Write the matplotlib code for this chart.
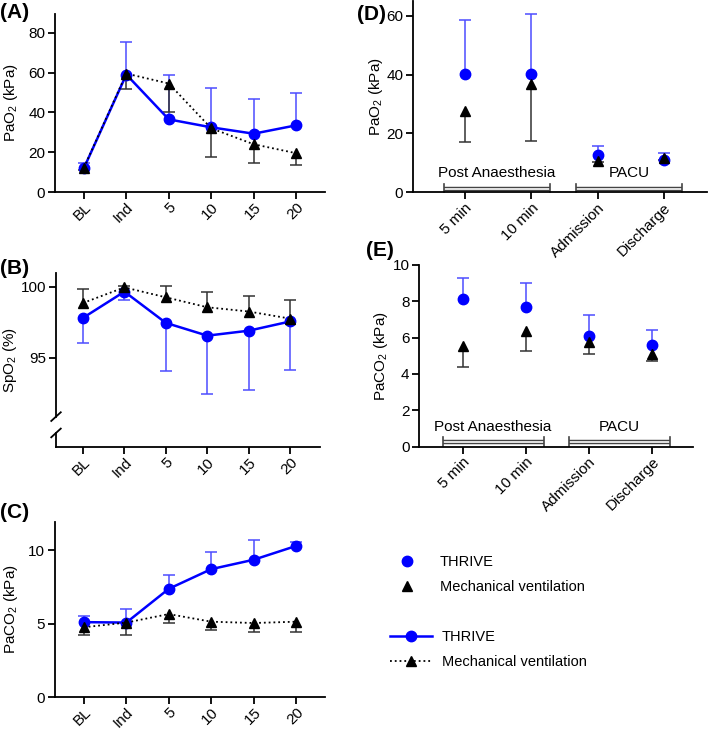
import numpy as np
import matplotlib
matplotlib.use("Agg")
import matplotlib.pyplot as plt
from matplotlib.lines import Line2D

plt.rcParams['font.family'] = ['Liberation Sans', 'DejaVu Sans']
plt.rcParams['mathtext.fontset'] = 'custom'
plt.rcParams['mathtext.rm'] = 'Liberation Sans'
plt.rcParams['mathtext.it'] = 'Liberation Sans:italic'
plt.rcParams['font.size'] = 11

# time course categories (A-C)
time_labels = ['BL', 'Ind', '5', '10', '15', '20']
# post anaesthesia / PACU categories (D-E)
post_labels = ['5 min', '10 min', 'Admission', 'Discharge']
groups = [('Post Anaesthesia', 0, 1), ('PACU', 2, 3)]

# (A) PaO2 during apnoea
pao2_thrive = [12.0, 59.0, 36.5, 32.5, 29.3, 33.5]
pao2_thrive_sd = [2.5, 16.5, 22.5, 19.5, 17.2, 16.0]
pao2_mv = [12.2, 59.5, 54.5, 32.0, 24.0, 19.5]
pao2_mv_sd = [1.0, 8.0, 14.5, 14.5, 9.5, 6.0]

# (B) SpO2
spo2_thrive = [97.8, 99.65, 97.45, 96.55, 96.9, 97.55]
spo2_thrive_sd = [1.8, 0.6, 3.4, 4.1, 4.2, 3.45]
spo2_mv = [98.85, 99.95, 99.25, 98.55, 98.25, 97.75]
spo2_mv_sd = [1.0, 0.1, 0.8, 1.1, 1.1, 1.3]

# (C) PaCO2
paco2_thrive = [5.1, 5.07, 7.37, 8.71, 9.35, 10.29]
paco2_thrive_sd = [0.4, 0.93, 0.96, 1.2, 1.36, 0.29]
paco2_mv = [4.75, 5.07, 5.65, 5.13, 5.04, 5.13]
paco2_mv_sd = [0.5, 0.83, 0.58, 0.55, 0.62, 0.67]

# (D) PaO2 post anaesthesia / PACU
post_pao2_thrive = [40.2, 40.2, 12.6, 11.0]
post_pao2_thrive_sd = [18.4, 20.5, 3.2, 2.2]
post_pao2_mv = [27.8, 36.7, 10.8, 11.6]
post_pao2_mv_sd = [10.7, 19.1, 0.5, 0.5]

# (E) PaCO2 post anaesthesia / PACU
post_paco2_thrive = [8.13, 7.69, 6.08, 5.59]
post_paco2_thrive_sd = [1.16, 1.28, 1.14, 0.8]
post_paco2_mv = [5.55, 6.37, 5.75, 5.11]
post_paco2_mv_sd = [1.19, 1.13, 0.66, 0.38]

BLUE = '#0000FF'
BLUE_ERR = '#4D4DFF'
BLACK = '#000000'
BLACK_ERR = '#333333'


def style_axis(ax):
    for side in ['top', 'right']:
        ax.spines[side].set_visible(False)
    for side in ['left', 'bottom']:
        ax.spines[side].set_linewidth(1.3)
    ax.tick_params(direction='out', length=5, width=1.3, labelsize=11)
    ax.tick_params(axis='x', pad=1)
    ax.tick_params(axis='y', pad=2)


def one_sided(ax, x, mean, sd, up, color):
    """Error bar drawn only on one side of the mean (GraphPad style)."""
    sd = np.asarray(sd)
    zeros = np.zeros_like(sd)
    yerr = [zeros, sd] if up else [sd, zeros]
    _, caps, _ = ax.errorbar(x, mean, yerr=yerr, fmt='none', ecolor=color,
                             elinewidth=1.1, capsize=4, capthick=1.1, zorder=2)
    caps[0 if up else 1].set_visible(False)


def draw_series(ax, x, mean, sd, up, thrive, line=True):
    one_sided(ax, x, mean, sd, up, BLUE_ERR if thrive else BLACK_ERR)
    if thrive:
        ax.plot(x, mean, linestyle='-' if line else 'none', color=BLUE,
                lw=1.8, marker='o', ms=7.5, zorder=3)
    else:
        ax.plot(x, mean, linestyle=':' if line else 'none', color=BLACK,
                lw=1.3, marker='^', ms=6.5, zorder=4)


def time_panel(ax, thrive, thrive_sd, mv, mv_sd, thrive_up):
    x = np.arange(len(time_labels))
    draw_series(ax, x, thrive, thrive_sd, thrive_up, True)
    draw_series(ax, x, mv, mv_sd, not thrive_up, False)
    ax.set_xticks(x)
    ax.set_xticklabels(time_labels, rotation=45, ha='right', va='top',
                       rotation_mode='anchor')
    style_axis(ax)


def post_panel(ax, thrive, thrive_sd, mv, mv_sd, text_y, bar_y):
    x = np.arange(len(post_labels))
    draw_series(ax, x, thrive, thrive_sd, True, True, line=False)
    draw_series(ax, x, mv, mv_sd, False, False, line=False)
    ax.set_xticks(x)
    ax.set_xticklabels(post_labels, rotation=45, ha='right', va='top',
                       rotation_mode='anchor')
    style_axis(ax)
    trans = ax.get_xaxis_transform()
    for name, i0, i1 in groups:
        x0, x1 = x[i0] - 0.32, x[i1] + 0.28
        ax.plot([x0, x1], [bar_y, bar_y], color='#444444', lw=3.2,
                transform=trans, clip_on=False, solid_capstyle='butt')
        ax.plot([x0, x1], [bar_y, bar_y], color='white', lw=1.2,
                transform=trans, clip_on=False, solid_capstyle='butt')
        for xe in (x0, x1):
            ax.plot([xe, xe], [bar_y - 0.02, bar_y + 0.025], color='#444444',
                    lw=1.2, transform=trans, clip_on=False)
        ax.text((x0 + x1) / 2, text_y, name, transform=trans,
                ha='center', va='center', fontsize=11)


fig = plt.figure(figsize=(7.09, 7.31), dpi=100)

# (A)
axA = fig.add_axes([0.0776, 0.7373, 0.3808, 0.2435])
time_panel(axA, pao2_thrive, pao2_thrive_sd, pao2_mv, pao2_mv_sd, True)
axA.set_xlim(-0.68, 5.68)
axA.set_ylim(0, 89.4)
axA.set_yticks([0, 20, 40, 60, 80])
axA.set_ylabel('PaO$_2$ (kPa)', fontsize=11)
axA.yaxis.set_label_coords(-0.13, 0.5)

# (B) with broken y axis
axB = fig.add_axes([0.079, 0.3885, 0.3724, 0.238])
time_panel(axB, spo2_thrive, spo2_thrive_sd, spo2_mv, spo2_mv_sd, False)
axB.set_xlim(-0.65, 5.72)
b_lo, b_hi = 88.71, 100.96
axB.set_ylim(b_lo, b_hi)
axB.set_yticks([95, 100])
axB.set_ylabel('SpO$_2$ (%)', fontsize=11)
axB.yaxis.set_label_coords(-0.14, 0.5)
brk_hi, brk_lo = 90.85, 89.7
axB.spines['left'].set_bounds(brk_hi, b_hi)
ytr = axB.get_yaxis_transform()
axB.plot([0, 0], [b_lo, brk_lo], color='black', lw=1.3, transform=ytr,
         clip_on=False)
for yb in (brk_hi, brk_lo):
    fy = (yb - b_lo) / (b_hi - b_lo)
    axB.plot([-0.018, 0.018], [fy - 0.025, fy + 0.025], color='black', lw=1.3,
             transform=axB.transAxes, clip_on=False)

# (C)
axC = fig.add_axes([0.0776, 0.0465, 0.3808, 0.2398])
time_panel(axC, paco2_thrive, paco2_thrive_sd, paco2_mv, paco2_mv_sd, True)
axC.set_xlim(-0.68, 5.68)
axC.set_ylim(0, 11.94)
axC.set_yticks([0, 5, 10])
axC.set_ylabel('PaCO$_2$ (kPa)', fontsize=11)
axC.yaxis.set_label_coords(-0.13, 0.5)

# (D)
axD = fig.add_axes([0.5825, 0.737, 0.4147, 0.2613])
post_panel(axD, post_pao2_thrive, post_pao2_thrive_sd, post_pao2_mv,
           post_pao2_mv_sd, text_y=0.10, bar_y=0.019)
axD.set_xlim(-0.78, 3.65)
axD.set_ylim(0, 65)
axD.set_yticks([0, 20, 40, 60])
axD.set_ylabel('PaO$_2$ (kPa)', fontsize=11)
axD.yaxis.set_label_coords(-0.095, 0.5)

# (E)
axE = fig.add_axes([0.5914, 0.3889, 0.386, 0.249])
post_panel(axE, post_paco2_thrive, post_paco2_thrive_sd, post_paco2_mv,
           post_paco2_mv_sd, text_y=0.107, bar_y=0.026)
axE.set_xlim(-0.69, 3.65)
axE.set_ylim(0, 10)
axE.set_yticks([0, 2, 4, 6, 8, 10])
axE.set_ylabel('PaCO$_2$ (kPa)', fontsize=11)
axE.yaxis.set_label_coords(-0.107, 0.5)

# panel letters
for label, (px, py) in {'(A)': (0, 13), '(B)': (0, 268), '(C)': (0, 513),
                        '(D)': (357, 15), '(E)': (366, 251)}.items():
    fig.text(px / 709, 1 - py / 731, label, fontsize=15, fontweight='bold',
             ha='left', va='center')

# legends
marker_handles = [
    Line2D([], [], ls='none', marker='o', color=BLUE, ms=7.5),
    Line2D([], [], ls='none', marker='^', color=BLACK, ms=6.5),
]
line_handles = [
    Line2D([], [], ls='-', lw=1.8, marker='o', color=BLUE, ms=7.5),
    Line2D([], [], ls=':', lw=1.3, marker='^', color=BLACK, ms=6.5),
]
names = ['THRIVE', 'Mechanical ventilation']
fig.legend(marker_handles, names, loc='upper left',
           bbox_to_anchor=(392 / 709, 1 - 555 / 731), frameon=False,
           fontsize=10.5, handlelength=2.0, handletextpad=1.3,
           labelspacing=0.75, borderpad=0, borderaxespad=0)
fig.legend(line_handles, names, loc='upper left',
           bbox_to_anchor=(390 / 709, 1 - 630 / 731), frameon=False,
           fontsize=10.5, handlelength=2.9, handletextpad=0.65,
           labelspacing=0.75, borderpad=0, borderaxespad=0)

fig.savefig('out.png', dpi=100)
